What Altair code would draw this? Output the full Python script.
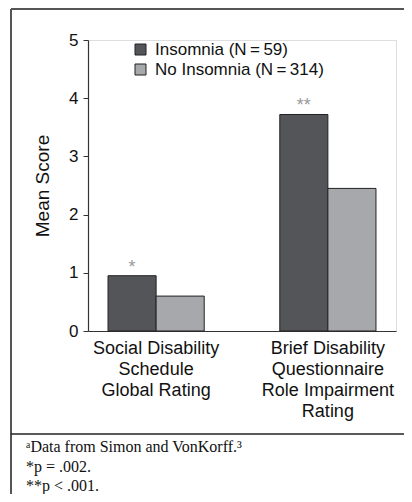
import altair as alt
import pandas as pd

groups = ["Social Disability|Schedule|Global Rating",
          "Brief Disability|Questionnaire|Role Impairment|Rating"]
series = ["Insomnia (N\u2009=\u200959)", "No Insomnia (N\u2009=\u2009314)"]
insomnia = [0.95, 3.72]
no_insomnia = [0.60, 2.45]
sig = ["*", "**"]
footnotes = ["\u1d43Data from Simon and VonKorff.\u00b3", "*p = .002.", "**p < .001."]

rows = []
for g, a, b, s in zip(groups, insomnia, no_insomnia, sig):
    rows.append({"group": g, "series": series[0], "value": a, "sig": s})
    rows.append({"group": g, "series": series[1], "value": b, "sig": ""})
df = pd.DataFrame(rows)

FONT = "Liberation Sans"
DARK = "#545559"
LIGHT = "#a7a8ac"

x = alt.X("group:N", sort=groups,
          scale=alt.Scale(paddingInner=0.44, paddingOuter=0.1166),
          axis=alt.Axis(title=None, ticks=False, labelAngle=0,
                        labelExpr="split(datum.label, '|')",
                        labelFont=FONT, labelFontSize=18, labelColor="#111",
                        labelLineHeight=21, labelPadding=8,
                        domainColor="#333", domainWidth=1.2))
xo = alt.XOffset("series:N", sort=series,
                 scale=alt.Scale(paddingInner=0, paddingOuter=0))
y = alt.Y("value:Q", scale=alt.Scale(domain=[0, 5]),
          axis=alt.Axis(title="Mean Score", values=[0, 1, 2, 3, 4, 5],
                        format="d", grid=False, tickSize=5, labelPadding=5,
                        labelFont=FONT, labelFontSize=17, labelColor="#111",
                        titleFont=FONT, titleFontSize=19, titleFontWeight="normal",
                        titleColor="#111", titlePadding=16,
                        domainColor="#333", tickColor="#333", domainWidth=1.2))

bars = alt.Chart(df).mark_bar(stroke="#222", strokeWidth=1).encode(
    x=x, xOffset=xo, y=y,
    color=alt.Color("series:N",
                    scale=alt.Scale(domain=series, range=[DARK, LIGHT]),
                    legend=alt.Legend(title=None, orient="none", legendX=44, legendY=1,
                                      symbolType="square", symbolSize=121,
                                      symbolStrokeColor="#222", symbolStrokeWidth=1,
                                      symbolOpacity=1, labelLimit=0,
                                      labelFont=FONT, labelFontSize=17, labelColor="#111",
                                      labelOffset=6, rowPadding=2, padding=0)),
)

stars = alt.Chart(df).transform_filter("datum.sig != ''").mark_text(
    baseline="alphabetic", dy=-3, fontSize=18, color="#9a9a9a", font=FONT).encode(
    x=alt.X("group:N", sort=groups), xOffset=alt.XOffset("series:N", sort=series),
    y="value:Q", text="sig:N")

one = alt.Data(values=[{}])
border_color = "#555"
top_rule = alt.Chart(one).mark_rule(color=border_color, strokeWidth=2).encode(
    x=alt.value(-77), x2=alt.value(316), y=alt.value(-31))
left_rule = alt.Chart(one).mark_rule(color=border_color, strokeWidth=2).encode(
    x=alt.value(-77), y=alt.value(-31), y2=alt.value(454))
sep_rule = alt.Chart(one).mark_rule(color="#222", strokeWidth=1.5).encode(
    x=alt.value(-77), x2=alt.value(316), y=alt.value(394))

notes = []
for i, t in enumerate(footnotes):
    notes.append(alt.Chart(alt.Data(values=[{"t": t}])).mark_text(
        align="left", baseline="middle", font="Liberation Serif", fontSize=16,
        color="#111").encode(x=alt.value(-62), y=alt.value(407 + 19.5 * i), text="t:N"))

chart = alt.layer(bars, stars, top_rule, left_rule, sep_rule, *notes).properties(
    width=308, height=291,
    autosize=alt.AutoSizeParams(type="none"),
    padding={"left": 80, "top": 32, "right": 8, "bottom": 163},
).configure_view(stroke=None).configure(background="white")

chart.save("out.html", embed_options={"renderer": "svg", "actions": False})
